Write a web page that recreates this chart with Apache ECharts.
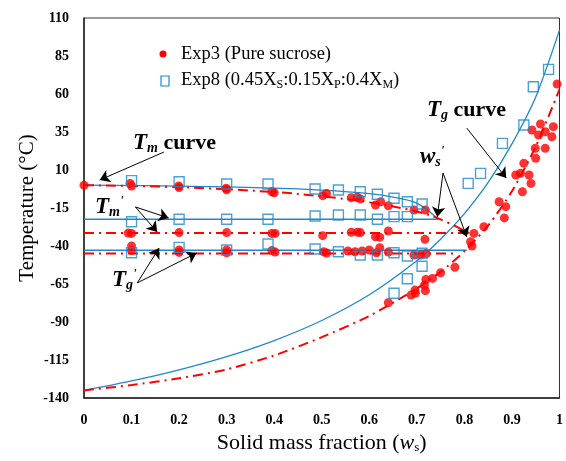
<!DOCTYPE html>
<html>
<head>
<meta charset="utf-8">
<script src="https://cdn.jsdelivr.net/npm/echarts@6/dist/echarts.min.js"></script>
<style>
  html, body { margin: 0; padding: 0; background: #fff; }
  #chart { width: 566px; height: 461px; }
</style>
</head>
<body>
<div id="chart"></div>
<script>
// axis ticks
const yMin = -140, yMax = 110, yStep = 25;
const xMin = 0, xMax = 1, xStep = 0.1;

// Exp3 (pure sucrose) points, [ws, T]
const exp3Tm = [[0,0],[0.097,1.2],[0.1,-0.5],[0.199,-0.5],[0.2,-1.5],[0.299,-2],[0.3,-3],[0.395,-4.3],[0.4,-5],
  [0.502,-6.9],[0.51,-5.5],[0.562,-8.2],[0.575,-8],[0.581,-9],[0.613,-13],[0.624,-10.9],[0.64,-13.5],[0.694,-16.3],[0.718,-16.3]];
const exp3TmPrime = [[0.1,-31.7],[0.093,-31.5],[0.2,-31.2],[0.3,-31.2],[0.395,-31.7],[0.402,-31.7],[0.502,-33.2],
  [0.562,-31],[0.575,-31],[0.581,-31.2],[0.613,-33.9],[0.622,-34.2],[0.64,-30.1],[0.717,-35.6]];
const exp3TgPrime = [[0.1,-40],[0.1,-43],[0.2,-42.6],[0.2,-44.2],[0.3,-42.6],[0.3,-44.5],[0.395,-43],[0.402,-44],
  [0.504,-43.8],[0.51,-44.6],[0.555,-43.3],[0.57,-43.8],[0.585,-43.3],[0.6,-42.6],[0.615,-44.5],[0.622,-41.1],
  [0.64,-44],[0.694,-45.9],[0.708,-45.9],[0.72,-45]];
const exp3Tg = [[0.64,-77.3],[0.688,-72.2],[0.697,-71.1],[0.718,-69.4],[0.696,-69],[0.716,-65.7],[0.719,-62],
  [0.733,-61.3],[0.75,-57.6],[0.78,-54],[0.813,-37.2],[0.816,-40],[0.82,-31.7],[0.841,-27.3],[0.873,-10.9],
  [0.884,-21.5],[0.887,-14.1],[0.908,6.7],[0.922,-4.3],[0.918,7.8],[0.925,14.4],[0.936,6.7],[0.94,1.2],
  [0.949,24.3],[0.95,17.7],[0.97,24.3],[0.942,36.3],[0.956,33],[0.96,40.3],[0.97,35.2],[0.984,31.9],
  [0.987,38.5],[0.995,66.6]];

// Exp8 (0.45Xs:0.15Xp:0.4Xm) points
const exp8Tm = [[0.1,3],[0.2,2.3],[0.3,0.8],[0.387,0.8],[0.486,-2.5],[0.535,-3.2],[0.581,-4.3],[0.617,-6],
  [0.652,-8.6],[0.68,-10.9],[0.711,-12.4]];
const exp8TmPrime = [[0.1,-24],[0.2,-22.4],[0.3,-22.4],[0.387,-22.4],[0.486,-20.3],[0.535,-19.6],[0.581,-19.6],
  [0.617,-22.4],[0.652,-20.7],[0.68,-20.7]];
const exp8TgPrime = [[0.1,-44.4],[0.2,-40.9],[0.3,-42.6],[0.387,-38.7],[0.486,-42],[0.535,-43.8],[0.581,-45.9],
  [0.617,-45.9],[0.652,-44.4],[0.68,-46.6],[0.711,-44.8]];
const exp8Tg = [[0.652,-71.1],[0.68,-61.5],[0.711,-53.3],[0.808,1.2],[0.834,7.8],[0.88,27.5],[0.925,39.6],
  [0.945,64.8],[0.977,76.2]];

// fitted curves (blue = Exp8, red = Exp3)
const blueTmCurve = [[0,0],[0.2,-0.6],[0.4,-1.9],[0.5,-3.3],[0.6,-5.6],[0.65,-7.8],[0.7,-11.8],[0.745,-22.4]];
const blueTmPrime = [[0,-22.4],[0.745,-22.4]];
const blueTgPrime = [[0,-42.8],[0.805,-42.8]];
const blueTgCurve = [[0,-135],[0.1,-128.8],[0.2,-121.5],[0.3,-112.8],[0.4,-102.2],[0.5,-89],[0.6,-72.1],[0.7,-49.7],
  [0.75,-35.6],[0.8,-18.7],[0.85,1.8],[0.9,27.2],[0.95,58],[1,102]];
const redTmCurve = [[0,0],[0.2,-1.3],[0.4,-4.5],[0.5,-7.3],[0.6,-11.3],[0.7,-17.3],[0.75,-22.5],[0.81,-31.5]];
const redTmPrime = [[0,-31.5],[0.81,-31.5]];
const redTgPrime = [[0,-45],[0.78,-45]];
const redTgCurve = [[0,-135],[0.1,-131.5],[0.2,-127],[0.3,-121.2],[0.4,-112],[0.5,-100],[0.6,-86],[0.7,-68],
  [0.75,-57],[0.8,-43.5],[0.85,-26.5],[0.9,-4],[0.95,25.5],[1,63]];

// annotation arrows [from, to]
const arrows = [
  [[0.168,21.8],[0.033,3.4]],
  [[0.108,-14.3],[0.178,-21.6]],
  [[0.108,-14.3],[0.154,-30.8]],
  [[0.112,-64.3],[0.158,-41.3]],
  [[0.112,-64.3],[0.237,-44.6]],
  [[0.805,37.6],[0.888,4.7]],
  [[0.755,8],[0.743,-20.9]],
  [[0.755,8],[0.805,-34]]
];

const BLUE = "#1f88cc";
const RED = "#ff0000";
const SERIF = "'Liberation Serif', 'DejaVu Serif', serif";

const chart = echarts.init(document.getElementById("chart"));

function blueLine(data, smooth) {
  return {
    type: "line", data: data, smooth: smooth || false,
    showSymbol: false, symbol: "none", silent: true, z: 2,
    lineStyle: { color: BLUE, width: 1.3 }
  };
}
function redLine(data, smooth) {
  return {
    type: "line", data: data, smooth: smooth || false,
    showSymbol: false, symbol: "none", silent: true, z: 3,
    lineStyle: { color: RED, width: 2, type: [10, 5, 2, 5] }
  };
}
function dots(data) {
  return {
    type: "scatter", data: data, symbol: "circle", symbolSize: 9, z: 4, silent: true,
    itemStyle: { color: RED }
  };
}
function squares(data) {
  return {
    type: "scatter", data: data, symbol: "rect", symbolSize: 10, z: 5, silent: true,
    itemStyle: { color: "rgba(255,255,255,0)", borderColor: BLUE, borderWidth: 1.4 }
  };
}

const bi = { fontFamily: SERIF, fontWeight: "bold", fontStyle: "italic", fill: "#000" };
function sym(main, sub, prime, size) {
  return {
    text: "{t|" + main + "}{s|" + sub + "}" + (prime ? "{p|'}" : "{c| curve}"),
    verticalAlign: "middle",
    rich: {
      t: Object.assign({ fontSize: size }, bi),
      s: Object.assign({ fontSize: 14, verticalAlign: "bottom", padding: [11, 0, 0, 0] }, bi),
      p: Object.assign({ fontSize: 13, verticalAlign: "top" }, bi),
      c: { fontFamily: SERIF, fontWeight: "bold", fontSize: 22, fill: "#000" }
    }
  };
}

chart.setOption({
  animation: false,
  grid: { left: 84, top: 18, width: 483, height: 380, show: true, borderColor: "#333", borderWidth: 1 },
  xAxis: {
    type: "value", min: xMin, max: xMax, interval: xStep,
    name: "{a|Solid mass fraction (}{i|w}{s|s}{a|)}",
    nameLocation: "middle", nameGap: 33,
    nameTextStyle: {
      rich: {
        a: { fontFamily: SERIF, fontSize: 22, color: "#000" },
        i: { fontFamily: SERIF, fontSize: 22, fontStyle: "italic", color: "#000" },
        s: { fontFamily: SERIF, fontSize: 13, color: "#000", verticalAlign: "bottom", padding: [9, 0, 0, 0] }
      }
    },
    axisLine: { onZero: false, lineStyle: { color: "#222", width: 1.5 } },
    axisTick: { show: false },
    splitLine: { show: false },
    axisLabel: { fontFamily: SERIF, fontWeight: "bold", fontSize: 14, color: "#000", margin: 15 }
  },
  yAxis: {
    type: "value", min: yMin, max: yMax, interval: yStep,
    name: "Temperature (°C)", nameLocation: "middle", nameGap: 46, nameMoveOverlap: false,
    nameTextStyle: { fontFamily: SERIF, fontSize: 21, color: "#000" },
    axisLine: { show: true, onZero: false, lineStyle: { color: "#222", width: 1.5 } },
    axisTick: { show: false },
    splitLine: { show: false },
    axisLabel: { fontFamily: SERIF, fontWeight: "bold", fontSize: 14, color: "#000", margin: 15 }
  },
  series: [
    blueLine(blueTmCurve, 0.35),
    blueLine(blueTmPrime),
    blueLine(blueTgPrime),
    blueLine(blueTgCurve, 0.25),
    redLine(redTmCurve, 0.35),
    redLine(redTmPrime),
    redLine(redTgPrime),
    redLine(redTgCurve, 0.25),
    dots(exp3Tm), dots(exp3TmPrime), dots(exp3TgPrime), dots(exp3Tg),
    squares(exp8Tm), squares(exp8TmPrime), squares(exp8TgPrime), squares(exp8Tg),
    {
      type: "line", data: [], silent: true, z: 6,
      markLine: {
        silent: true, symbol: ["none", "arrow"], symbolSize: 10,
        label: { show: false },
        lineStyle: { color: "#000", width: 1, type: "solid" },
        emphasis: { disabled: true },
        data: arrows.map(a => [{ coord: a[0] }, { coord: a[1] }])
      }
    }
  ],
  graphic: [
    { type: "circle", shape: { cx: 163, cy: 54, r: 3.5 }, style: { fill: RED } },
    { type: "rect", shape: { x: 161, y: 76, width: 8, height: 10 }, style: { fill: "none", stroke: BLUE, lineWidth: 1.2 } },
    { type: "text", x: 181, y: 54, style: { text: "Exp3 (Pure sucrose)", font: "18.5px " + SERIF, fill: "#000", verticalAlign: "middle" } },
    { type: "text", x: 181, y: 80, style: {
        text: "{a|Exp8 (0.45X}{s|S}{a|:0.15X}{s|P}{a|:0.4X}{s|M}{a|)}", verticalAlign: "middle",
        rich: {
          a: { fontFamily: SERIF, fontSize: 18.5, fill: "#000" },
          s: { fontFamily: SERIF, fontSize: 12, fill: "#000", verticalAlign: "bottom", padding: [9, 0, 0, 0] }
        } } },
    { type: "text", x: 133, y: 143, style: sym("T", "m", false, 23) },
    { type: "text", x: 427, y: 110, style: sym("T", "g", false, 23) },
    { type: "text", x: 95, y: 207, style: sym("T", "m", true, 23) },
    { type: "text", x: 112, y: 280, style: sym("T", "g", true, 23) },
    { type: "text", x: 420, y: 157, style: sym("w", "s", true, 23) }
  ]
});
</script>
</body>
</html>
